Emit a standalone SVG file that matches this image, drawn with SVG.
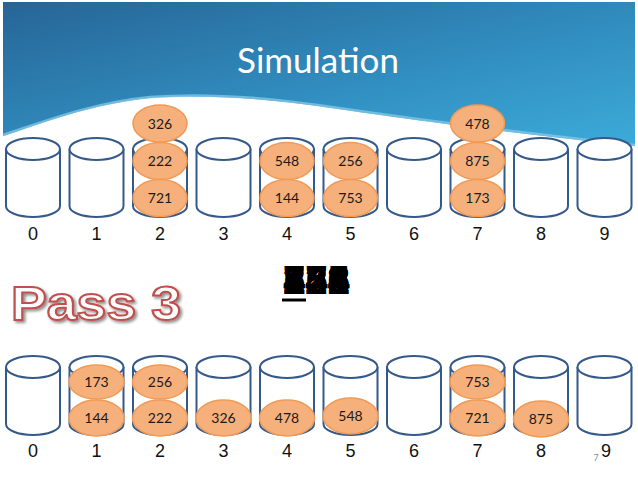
<svg xmlns="http://www.w3.org/2000/svg" width="638" height="478" viewBox="0 0 638 478">
<defs>
<linearGradient id="sky" x1="0" y1="0" x2="1" y2="1">
<stop offset="0" stop-color="#266596"/>
<stop offset="0.6" stop-color="#3290c2"/>
<stop offset="1" stop-color="#3cabd9"/>
</linearGradient>
<filter id="shadow" x="-10%" y="-20%" width="130%" height="150%">
<feGaussianBlur in="SourceAlpha" stdDeviation="1.5"/>
<feOffset dx="2" dy="2" result="b"/>
<feComponentTransfer><feFuncA type="linear" slope="0.45"/></feComponentTransfer>
<feMerge><feMergeNode/><feMergeNode in="SourceGraphic"/></feMerge>
</filter>
<g id="cyl">
<path d="M-27,0 V57 A27,11 0 0 0 27,57 V0" fill="#fff" stroke="#34598a" stroke-width="2"/>
<ellipse cx="0" cy="0" rx="27" ry="11" fill="#fff" stroke="#34598a" stroke-width="2"/>
</g>
</defs>
<style>
.ball{fill:#f6b07c;stroke:#f19a55;stroke-width:1.5}
.num{font-family:Lato,"Open Sans",sans-serif;font-size:14px;fill:#1a1a1a;text-anchor:middle}
.lbl{font-family:"Liberation Sans",Arial,sans-serif;font-size:18px;fill:#111;text-anchor:middle}
.big{font-family:"Liberation Sans",Arial,sans-serif;font-weight:bold;font-size:40px;fill:#000}
</style>
<rect width="638" height="478" fill="#fff"/>
<g id="header">
<path d="M3,2 H635 V146 C500,132 400,118 318,106 C260,98 200,94 150,98 C90,104 40,124 3,136 Z" fill="url(#sky)"/>
<path d="M635,145 C500,131 400,117 318,105 C260,97 200,93 150,97 C90,103 40,123 3,135" fill="none" stroke="#7fc6e6" stroke-width="2.5" opacity="0.8"/>
<text x="318" y="73" font-family="Lato,'Open Sans',sans-serif" font-size="35" fill="#fff" text-anchor="middle">Simulation</text>
</g>
<g id="top-buckets">
<g id="t0"><use href="#cyl" x="33" y="149"/><text class="lbl" x="33" y="240">0</text></g>
<g id="t1"><use href="#cyl" x="96.5" y="149"/><text class="lbl" x="96.5" y="240">1</text></g>
<g id="t2"><use href="#cyl" x="160" y="149"/><text class="lbl" x="160" y="240">2</text>
<ellipse class="ball" cx="160" cy="123.5" rx="27" ry="18.5"/><text class="num" x="160" y="128.5">326</text>
<ellipse class="ball" cx="160" cy="161" rx="27" ry="18.5"/><text class="num" x="160" y="166">222</text>
<ellipse class="ball" cx="160" cy="198" rx="27" ry="18.5"/><text class="num" x="160" y="203">721</text></g>
<g id="t3"><use href="#cyl" x="223.5" y="149"/><text class="lbl" x="223.5" y="240">3</text></g>
<g id="t4"><use href="#cyl" x="287" y="149"/><text class="lbl" x="287" y="240">4</text>
<ellipse class="ball" cx="287" cy="161" rx="27" ry="18.5"/><text class="num" x="287" y="166">548</text>
<ellipse class="ball" cx="287" cy="198" rx="27" ry="18.5"/><text class="num" x="287" y="203">144</text></g>
<g id="t5"><use href="#cyl" x="350.5" y="149"/><text class="lbl" x="350.5" y="240">5</text>
<ellipse class="ball" cx="350.5" cy="161" rx="27" ry="18.5"/><text class="num" x="350.5" y="166">256</text>
<ellipse class="ball" cx="350.5" cy="198" rx="27" ry="18.5"/><text class="num" x="350.5" y="203">753</text></g>
<g id="t6"><use href="#cyl" x="414" y="149"/><text class="lbl" x="414" y="240">6</text></g>
<g id="t7"><use href="#cyl" x="477.5" y="149"/><text class="lbl" x="477.5" y="240">7</text>
<ellipse class="ball" cx="477.5" cy="123.5" rx="27" ry="18.5"/><text class="num" x="477.5" y="128.5">478</text>
<ellipse class="ball" cx="477.5" cy="161" rx="27" ry="18.5"/><text class="num" x="477.5" y="166">875</text>
<ellipse class="ball" cx="477.5" cy="198" rx="27" ry="18.5"/><text class="num" x="477.5" y="203">173</text></g>
<g id="t8"><use href="#cyl" x="541" y="149"/><text class="lbl" x="541" y="240">8</text></g>
<g id="t9"><use href="#cyl" x="604.5" y="149"/><text class="lbl" x="604.5" y="240">9</text></g>
</g>
<g id="current">
<text class="big" x="283" y="294">326</text>
<text class="big" x="283" y="294">478</text>
<text class="big" x="283" y="294">222</text>
<text class="big" x="283" y="294">548</text>
<text class="big" x="283" y="294">256</text>
<text class="big" x="283" y="294">875</text>
<text class="big" x="283" y="294">721</text>
<text class="big" x="283" y="294">144</text>
<text class="big" x="283" y="294">753</text>
<text class="big" x="283" y="294">173</text>
<rect x="282" y="298.5" width="24" height="3" fill="#000"/>
</g>
<g id="pass" filter="url(#shadow)">
<text x="11" y="320" font-family="'Liberation Sans',Arial,sans-serif" font-weight="bold" font-size="48" fill="#fff" stroke="#c0504d" stroke-width="2" textLength="170" lengthAdjust="spacingAndGlyphs">Pass 3</text>
</g>
<g id="bottom-buckets">
<g id="b0"><use href="#cyl" x="33" y="367"/><text class="lbl" x="33" y="457">0</text></g>
<g id="b1"><use href="#cyl" x="96.5" y="367"/><text class="lbl" x="96.5" y="457">1</text>
<ellipse class="ball" cx="96.5" cy="382" rx="27.5" ry="17"/><text class="num" x="96.5" y="387">173</text>
<ellipse class="ball" cx="96.5" cy="418" rx="27.5" ry="18"/><text class="num" x="96.5" y="423">144</text></g>
<g id="b2"><use href="#cyl" x="160" y="367"/><text class="lbl" x="160" y="457">2</text>
<ellipse class="ball" cx="160" cy="382" rx="27.5" ry="17"/><text class="num" x="160" y="387">256</text>
<ellipse class="ball" cx="160" cy="418" rx="27.5" ry="18"/><text class="num" x="160" y="423">222</text></g>
<g id="b3"><use href="#cyl" x="223.5" y="367"/><text class="lbl" x="223.5" y="457">3</text>
<ellipse class="ball" cx="223.5" cy="418" rx="27.5" ry="18"/><text class="num" x="223.5" y="423">326</text></g>
<g id="b4"><use href="#cyl" x="287" y="367"/><text class="lbl" x="287" y="457">4</text>
<ellipse class="ball" cx="287" cy="418" rx="27.5" ry="18"/><text class="num" x="287" y="423">478</text></g>
<g id="b5"><use href="#cyl" x="350.5" y="367"/><text class="lbl" x="350.5" y="457">5</text>
<ellipse class="ball" cx="350.5" cy="416" rx="27.5" ry="18"/><text class="num" x="350.5" y="421">548</text></g>
<g id="b6"><use href="#cyl" x="414" y="367"/><text class="lbl" x="414" y="457">6</text></g>
<g id="b7"><use href="#cyl" x="477.5" y="367"/><text class="lbl" x="477.5" y="457">7</text>
<ellipse class="ball" cx="477.5" cy="382" rx="27.5" ry="17"/><text class="num" x="477.5" y="387">753</text>
<ellipse class="ball" cx="477.5" cy="418" rx="27.5" ry="18"/><text class="num" x="477.5" y="423">721</text></g>
<g id="b8"><use href="#cyl" x="541" y="367"/><text class="lbl" x="541" y="457">8</text>
<ellipse class="ball" cx="541" cy="419" rx="27.5" ry="18"/><text class="num" x="541" y="424">875</text></g>
<g id="b9"><use href="#cyl" x="604.5" y="367"/><text class="lbl" x="606" y="457">9</text></g>
</g>
<text x="596" y="461" font-family="Lato,sans-serif" font-size="9" fill="#8c8c8c" text-anchor="middle">7</text>
</svg>
